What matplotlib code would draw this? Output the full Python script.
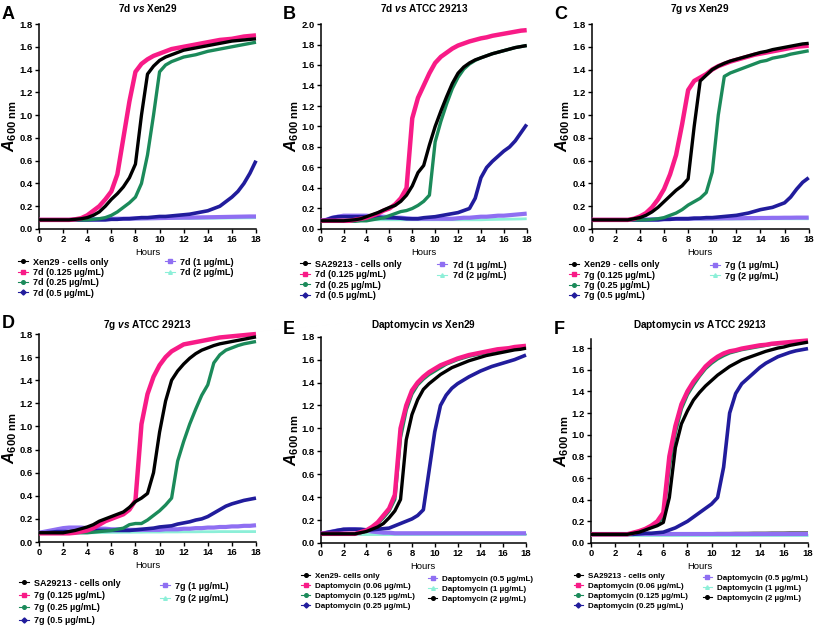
import numpy as np
import matplotlib
matplotlib.use('Agg')
import matplotlib.pyplot as plt
from matplotlib.lines import Line2D

plt.rcParams['font.family'] = ['Liberation Sans', 'DejaVu Sans']
plt.rcParams['font.weight'] = 'bold'
plt.rcParams['mathtext.fontset'] = 'custom'
plt.rcParams['mathtext.rm'] = 'Liberation Sans:bold'
plt.rcParams['mathtext.it'] = 'Liberation Sans:italic:bold'
plt.rcParams['mathtext.bf'] = 'Liberation Sans:bold'

# time grid (h), readings every 30 min
hours = np.arange(0, 18.01, 0.5)

# ---- A: 7d vs Xen29 ----
a_cells = [0.08, 0.08, 0.08, 0.08, 0.08, 0.08, 0.085, 0.09, 0.10,
           0.12, 0.15, 0.20, 0.26, 0.31, 0.37, 0.45, 0.57, 1.00,
           1.36, 1.43, 1.48, 1.51, 1.53, 1.55, 1.57, 1.58, 1.59,
           1.60, 1.61, 1.62, 1.63, 1.64, 1.65, 1.655, 1.66, 1.665, 1.67]
a_p125 = [0.08, 0.08, 0.08, 0.08, 0.08, 0.08, 0.085, 0.095, 0.12,
          0.16, 0.20, 0.26, 0.33, 0.48, 0.80, 1.12, 1.38, 1.45,
          1.49, 1.52, 1.54, 1.56, 1.58, 1.59, 1.60, 1.61, 1.62,
          1.63, 1.64, 1.65, 1.66, 1.665, 1.67, 1.68, 1.69, 1.695, 1.70]
a_p25 = [0.08, 0.08, 0.08, 0.08, 0.08, 0.08, 0.08, 0.08, 0.08,
         0.085, 0.09, 0.10, 0.12, 0.15, 0.19, 0.23, 0.28, 0.40,
         0.65, 1.00, 1.38, 1.44, 1.47, 1.49, 1.51, 1.52, 1.53,
         1.545, 1.56, 1.57, 1.58, 1.59, 1.60, 1.61, 1.62, 1.63, 1.64]
a_p5 = [0.08, 0.08, 0.08, 0.08, 0.08, 0.08, 0.08, 0.08, 0.08,
        0.08, 0.08, 0.08, 0.085, 0.085, 0.09, 0.09, 0.095, 0.10,
        0.10, 0.105, 0.11, 0.11, 0.115, 0.12, 0.125, 0.13, 0.14,
        0.15, 0.16, 0.18, 0.20, 0.24, 0.28, 0.33, 0.40, 0.49, 0.60]
a_1 = [0.08, 0.08, 0.08, 0.08, 0.08, 0.08, 0.082, 0.084, 0.085,
       0.086, 0.087, 0.088, 0.089, 0.09, 0.09, 0.091, 0.092, 0.093,
       0.094, 0.095, 0.096, 0.097, 0.098, 0.099, 0.10, 0.10, 0.101,
       0.102, 0.103, 0.104, 0.105, 0.106, 0.107, 0.108, 0.109, 0.11, 0.11]
a_2 = [0.08, 0.08, 0.08, 0.08, 0.08, 0.08, 0.08, 0.08, 0.08,
       0.082, 0.083, 0.084, 0.085, 0.086, 0.087, 0.088, 0.088, 0.089,
       0.09, 0.09, 0.091, 0.091, 0.092, 0.092, 0.093, 0.093, 0.094,
       0.094, 0.095, 0.095, 0.096, 0.096, 0.097, 0.097, 0.098, 0.098, 0.10]

# ---- B: 7d vs ATCC 29213 ----
b_cells = [0.08, 0.08, 0.08, 0.08, 0.08, 0.085, 0.09, 0.10, 0.12,
           0.14, 0.16, 0.185, 0.21, 0.23, 0.27, 0.33, 0.42, 0.55,
           0.62, 0.82, 1.00, 1.15, 1.29, 1.42, 1.52, 1.58, 1.62,
           1.65, 1.67, 1.69, 1.71, 1.725, 1.74, 1.755, 1.77, 1.78, 1.79]
b_p125 = [0.08, 0.08, 0.08, 0.08, 0.08, 0.08, 0.09, 0.10, 0.11,
          0.13, 0.15, 0.18, 0.20, 0.24, 0.30, 0.40, 1.08, 1.28,
          1.40, 1.52, 1.62, 1.68, 1.72, 1.76, 1.79, 1.81, 1.83,
          1.845, 1.86, 1.87, 1.885, 1.895, 1.905, 1.915, 1.925, 1.935, 1.94]
b_p25 = [0.075, 0.075, 0.075, 0.075, 0.075, 0.075, 0.075, 0.08, 0.08,
         0.09, 0.10, 0.11, 0.13, 0.15, 0.17, 0.18, 0.20, 0.23,
         0.27, 0.33, 0.85, 1.05, 1.22, 1.37, 1.48, 1.56, 1.61,
         1.645, 1.67, 1.69, 1.71, 1.725, 1.74, 1.755, 1.77, 1.78, 1.79]
b_p5 = [0.08, 0.09, 0.11, 0.12, 0.12, 0.12, 0.12, 0.12, 0.12,
        0.115, 0.115, 0.11, 0.11, 0.11, 0.105, 0.10, 0.10, 0.10,
        0.11, 0.115, 0.12, 0.13, 0.14, 0.15, 0.16, 0.18, 0.20,
        0.30, 0.50, 0.60, 0.66, 0.71, 0.76, 0.80, 0.86, 0.94, 1.02]
b_1 = [0.08, 0.09, 0.11, 0.12, 0.13, 0.13, 0.13, 0.13, 0.13,
       0.125, 0.12, 0.12, 0.115, 0.11, 0.11, 0.105, 0.10, 0.10,
       0.10, 0.10, 0.10, 0.10, 0.10, 0.10, 0.105, 0.11, 0.11,
       0.115, 0.12, 0.12, 0.125, 0.13, 0.13, 0.135, 0.14, 0.145, 0.15]
b_2 = [0.08, 0.08, 0.085, 0.09, 0.09, 0.09, 0.09, 0.09, 0.09,
       0.09, 0.09, 0.09, 0.09, 0.09, 0.09, 0.09, 0.09, 0.09,
       0.09, 0.09, 0.09, 0.09, 0.09, 0.09, 0.09, 0.09, 0.09,
       0.09, 0.09, 0.092, 0.093, 0.094, 0.095, 0.096, 0.097, 0.098, 0.10]

# ---- C: 7g vs Xen29 ----
c_cells = [0.08, 0.08, 0.08, 0.08, 0.08, 0.08, 0.08, 0.09, 0.10,
           0.12, 0.15, 0.19, 0.24, 0.29, 0.34, 0.38, 0.44, 0.90,
           1.30, 1.35, 1.40, 1.43, 1.455, 1.475, 1.49, 1.505, 1.52,
           1.535, 1.55, 1.56, 1.575, 1.585, 1.595, 1.605, 1.615, 1.625, 1.63]
c_p125 = [0.08, 0.08, 0.08, 0.08, 0.08, 0.08, 0.08, 0.09, 0.11,
          0.14, 0.19, 0.26, 0.35, 0.48, 0.65, 0.92, 1.22, 1.30,
          1.33, 1.36, 1.40, 1.43, 1.45, 1.47, 1.485, 1.50, 1.515,
          1.53, 1.54, 1.55, 1.56, 1.57, 1.58, 1.59, 1.60, 1.605, 1.61]
c_p25 = [0.08, 0.08, 0.08, 0.08, 0.08, 0.08, 0.08, 0.08, 0.08,
         0.08, 0.085, 0.09, 0.10, 0.12, 0.14, 0.17, 0.21, 0.24,
         0.27, 0.32, 0.50, 1.00, 1.34, 1.37, 1.39, 1.41, 1.43,
         1.45, 1.47, 1.48, 1.50, 1.51, 1.52, 1.535, 1.545, 1.555, 1.565]
c_p5 = [0.08, 0.08, 0.08, 0.08, 0.08, 0.08, 0.08, 0.08, 0.08,
        0.08, 0.08, 0.08, 0.085, 0.085, 0.09, 0.09, 0.09, 0.095,
        0.095, 0.10, 0.10, 0.105, 0.11, 0.115, 0.12, 0.13, 0.14,
        0.155, 0.17, 0.18, 0.19, 0.21, 0.23, 0.28, 0.35, 0.41, 0.45]
c_1 = [0.08, 0.08, 0.08, 0.08, 0.08, 0.08, 0.08, 0.082, 0.083,
       0.084, 0.085, 0.086, 0.087, 0.088, 0.089, 0.09, 0.09, 0.091,
       0.092, 0.092, 0.093, 0.093, 0.094, 0.094, 0.095, 0.095, 0.096,
       0.096, 0.097, 0.097, 0.098, 0.098, 0.099, 0.099, 0.10, 0.10, 0.10]
c_2 = [0.08, 0.08, 0.08, 0.08, 0.08, 0.08, 0.08, 0.08, 0.08,
       0.081, 0.082, 0.082, 0.083, 0.083, 0.084, 0.084, 0.085, 0.085,
       0.086, 0.086, 0.087, 0.087, 0.088, 0.088, 0.088, 0.089, 0.089,
       0.089, 0.09, 0.09, 0.09, 0.09, 0.09, 0.09, 0.09, 0.09, 0.09]

# ---- D: 7g vs ATCC 29213 ----
d_cells = [0.08, 0.08, 0.08, 0.08, 0.08, 0.09, 0.10, 0.115, 0.13,
           0.15, 0.18, 0.20, 0.22, 0.24, 0.26, 0.30, 0.35, 0.38,
           0.42, 0.60, 0.95, 1.22, 1.40, 1.48, 1.54, 1.59, 1.63,
           1.66, 1.68, 1.70, 1.715, 1.725, 1.735, 1.745, 1.755, 1.765, 1.775]
d_p125 = [0.075, 0.075, 0.075, 0.075, 0.075, 0.075, 0.08, 0.09, 0.10,
          0.12, 0.15, 0.18, 0.20, 0.22, 0.24, 0.28, 0.36, 1.02,
          1.28, 1.43, 1.53, 1.60, 1.65, 1.68, 1.71, 1.72, 1.73,
          1.74, 1.75, 1.76, 1.77, 1.775, 1.78, 1.785, 1.79, 1.795, 1.80]
d_p25 = [0.08, 0.08, 0.08, 0.08, 0.08, 0.08, 0.08, 0.08, 0.08,
         0.085, 0.09, 0.095, 0.10, 0.11, 0.12, 0.15, 0.16, 0.16,
         0.19, 0.23, 0.27, 0.32, 0.38, 0.70, 0.87, 1.02, 1.15,
         1.27, 1.36, 1.55, 1.62, 1.66, 1.68, 1.70, 1.715, 1.725, 1.735]
d_p5 = [0.08, 0.08, 0.085, 0.09, 0.09, 0.09, 0.095, 0.095, 0.10,
        0.10, 0.10, 0.10, 0.10, 0.10, 0.10, 0.10, 0.105, 0.11,
        0.115, 0.12, 0.13, 0.135, 0.14, 0.155, 0.165, 0.175, 0.19,
        0.20, 0.22, 0.25, 0.28, 0.31, 0.33, 0.345, 0.36, 0.37, 0.38]
d_1 = [0.08, 0.09, 0.10, 0.11, 0.12, 0.125, 0.125, 0.125, 0.12,
       0.12, 0.115, 0.115, 0.11, 0.11, 0.11, 0.105, 0.105, 0.105,
       0.105, 0.105, 0.105, 0.11, 0.11, 0.11, 0.115, 0.115, 0.12,
       0.12, 0.125, 0.125, 0.13, 0.13, 0.135, 0.135, 0.14, 0.14, 0.145]
d_2 = [0.08, 0.08, 0.08, 0.08, 0.08, 0.08, 0.08, 0.08, 0.08,
       0.08, 0.082, 0.082, 0.083, 0.083, 0.084, 0.084, 0.085, 0.085,
       0.086, 0.086, 0.086, 0.087, 0.087, 0.087, 0.088, 0.088, 0.088,
       0.089, 0.089, 0.089, 0.09, 0.09, 0.09, 0.09, 0.09, 0.09, 0.09]

# ---- E: Daptomycin vs Xen29 ----
e_cells = [0.08, 0.08, 0.08, 0.08, 0.08, 0.08, 0.08, 0.09, 0.10,
           0.12, 0.14, 0.17, 0.22, 0.28, 0.38, 0.90, 1.12, 1.25,
           1.34, 1.39, 1.43, 1.47, 1.50, 1.53, 1.55, 1.57, 1.59,
           1.605, 1.62, 1.635, 1.645, 1.655, 1.665, 1.675, 1.685, 1.69, 1.70]
e_p06 = [0.08, 0.08, 0.08, 0.08, 0.08, 0.08, 0.08, 0.095, 0.11,
         0.14, 0.18, 0.24, 0.30, 0.42, 1.00, 1.20, 1.33, 1.40,
         1.45, 1.49, 1.52, 1.55, 1.57, 1.59, 1.61, 1.625, 1.64,
         1.65, 1.66, 1.67, 1.68, 1.69, 1.695, 1.70, 1.71, 1.715, 1.72]
e_p125 = [0.08, 0.08, 0.08, 0.08, 0.08, 0.08, 0.08, 0.09, 0.105,
          0.13, 0.17, 0.22, 0.28, 0.38, 0.92, 1.16, 1.30, 1.38,
          1.43, 1.47, 1.50, 1.53, 1.56, 1.58, 1.60, 1.615, 1.63,
          1.64, 1.65, 1.66, 1.67, 1.68, 1.685, 1.69, 1.70, 1.705, 1.71]
e_p25 = [0.08, 0.09, 0.10, 0.11, 0.12, 0.12, 0.12, 0.12, 0.115,
         0.115, 0.12, 0.125, 0.13, 0.15, 0.17, 0.19, 0.21, 0.24,
         0.29, 0.63, 0.97, 1.20, 1.29, 1.35, 1.39, 1.42, 1.45,
         1.475, 1.50, 1.52, 1.54, 1.555, 1.57, 1.585, 1.60, 1.62, 1.64]
e_p5 = [0.08, 0.09, 0.10, 0.11, 0.115, 0.12, 0.12, 0.115, 0.11,
        0.10, 0.095, 0.09, 0.09, 0.085, 0.085, 0.085, 0.085, 0.085,
        0.085, 0.085, 0.085, 0.085, 0.085, 0.085, 0.085, 0.085, 0.085,
        0.085, 0.085, 0.085, 0.085, 0.085, 0.085, 0.085, 0.085, 0.085, 0.085]
e_1 = [0.08, 0.08, 0.08, 0.08, 0.08, 0.08, 0.08, 0.08, 0.08,
       0.08, 0.08, 0.08, 0.08, 0.08, 0.08, 0.08, 0.08, 0.08,
       0.08, 0.08, 0.08, 0.08, 0.08, 0.08, 0.08, 0.08, 0.08,
       0.08, 0.08, 0.08, 0.08, 0.08, 0.08, 0.08, 0.08, 0.08, 0.08]
e_2 = [0.075, 0.075, 0.075, 0.075, 0.075, 0.075, 0.075, 0.075, 0.075,
       0.075, 0.075, 0.075, 0.075, 0.075, 0.075, 0.075, 0.075, 0.075,
       0.075, 0.075, 0.075, 0.075, 0.075, 0.075, 0.075, 0.075, 0.075,
       0.075, 0.075, 0.075, 0.075, 0.075, 0.075, 0.075, 0.075, 0.075, 0.075]

# ---- F: Daptomycin vs ATCC 29213 ----
f_cells = [0.08, 0.08, 0.08, 0.08, 0.08, 0.08, 0.08, 0.09, 0.10,
           0.12, 0.14, 0.16, 0.19, 0.42, 0.88, 1.10, 1.22, 1.32,
           1.39, 1.45, 1.50, 1.55, 1.59, 1.63, 1.66, 1.69, 1.71,
           1.73, 1.75, 1.77, 1.785, 1.80, 1.81, 1.825, 1.835, 1.845, 1.855]
f_p06 = [0.08, 0.08, 0.08, 0.08, 0.08, 0.08, 0.08, 0.095, 0.11,
         0.13, 0.16, 0.20, 0.28, 0.80, 1.08, 1.28, 1.40, 1.49,
         1.56, 1.63, 1.68, 1.72, 1.75, 1.77, 1.78, 1.795, 1.805,
         1.815, 1.825, 1.83, 1.84, 1.845, 1.85, 1.855, 1.86, 1.865, 1.87]
f_p125 = [0.08, 0.08, 0.08, 0.08, 0.08, 0.08, 0.08, 0.09, 0.105,
          0.125, 0.15, 0.18, 0.24, 0.70, 1.02, 1.24, 1.37, 1.46,
          1.54, 1.61, 1.66, 1.70, 1.73, 1.755, 1.77, 1.785, 1.795,
          1.805, 1.815, 1.825, 1.835, 1.84, 1.845, 1.85, 1.855, 1.86, 1.865]
f_p25 = [0.08, 0.08, 0.08, 0.08, 0.08, 0.08, 0.08, 0.08, 0.085,
         0.09, 0.09, 0.095, 0.10, 0.12, 0.14, 0.17, 0.20, 0.24,
         0.28, 0.32, 0.36, 0.42, 0.70, 1.20, 1.38, 1.47, 1.52,
         1.57, 1.62, 1.66, 1.69, 1.72, 1.74, 1.76, 1.775, 1.785, 1.795]
f_p5 = [0.08, 0.08, 0.08, 0.08, 0.08, 0.08, 0.08, 0.08, 0.08,
        0.08, 0.08, 0.08, 0.08, 0.08, 0.08, 0.08, 0.08, 0.08,
        0.08, 0.08, 0.08, 0.08, 0.08, 0.08, 0.08, 0.08, 0.08,
        0.08, 0.08, 0.08, 0.08, 0.08, 0.08, 0.08, 0.08, 0.08, 0.08]
f_1 = [0.075, 0.075, 0.075, 0.075, 0.075, 0.075, 0.075, 0.075, 0.075,
       0.075, 0.075, 0.075, 0.075, 0.075, 0.075, 0.075, 0.075, 0.075,
       0.075, 0.075, 0.075, 0.075, 0.075, 0.075, 0.075, 0.075, 0.075,
       0.075, 0.075, 0.075, 0.075, 0.075, 0.075, 0.075, 0.075, 0.075, 0.075]
f_2 = [0.09, 0.09, 0.09, 0.09, 0.09, 0.09, 0.09, 0.09, 0.09,
       0.092, 0.092, 0.092, 0.093, 0.093, 0.093, 0.094, 0.094, 0.094,
       0.095, 0.095, 0.095, 0.096, 0.096, 0.096, 0.097, 0.097, 0.097,
       0.098, 0.098, 0.098, 0.099, 0.099, 0.099, 0.10, 0.10, 0.10, 0.10]

labels_7d_xen = ['Xen29 - cells only', '7d (0.125 µg/mL)', '7d (0.25 µg/mL)',
                 '7d (0.5 µg/mL)', '7d (1 µg/mL)', '7d (2 µg/mL)']
labels_7d_sa = ['SA29213 - cells only', '7d (0.125 µg/mL)', '7d (0.25 µg/mL)',
                '7d (0.5 µg/mL)', '7d (1 µg/mL)', '7d (2 µg/mL)']
labels_7g_xen = ['Xen29 - cells only', '7g (0.125 µg/mL)', '7g (0.25 µg/mL)',
                 '7g (0.5 µg/mL)', '7g (1 µg/mL)', '7g (2 µg/mL)']
labels_7g_sa = ['SA29213 - cells only', '7g (0.125 µg/mL)', '7g (0.25 µg/mL)',
                '7g (0.5 µg/mL)', '7g (1 µg/mL)', '7g (2 µg/mL)']
labels_dap_xen = ['Xen29- cells only', 'Daptomycin (0.06 µg/mL)', 'Daptomycin (0.125 µg/mL)',
                  'Daptomycin (0.25 µg/mL)', 'Daptomycin (0.5 µg/mL)', 'Daptomycin (1 µg/mL)',
                  'Daptomycin (2 µg/mL)']
labels_dap_sa = ['SA29213 - cells only', 'Daptomycin (0.06 µg/mL)', 'Daptomycin (0.125 µg/mL)',
                 'Daptomycin (0.25 µg/mL)', 'Daptomycin (0.5 µg/mL)', 'Daptomycin (1 µg/mL)',
                 'Daptomycin (2 µg/mL)']

colors = ['#000000', '#F81B87', '#1B8A5A', '#211C9C', '#8F6FF2', '#8CEFD8', '#000000']
widths = [2.4, 3.2, 2.4, 2.6, 3.0, 2.0, 1.0]
marks = ['o', 's', 'o', 'D', 's', '^', 'o']

W, H = 817, 627
fig = plt.figure(figsize=(W / 100, H / 100), dpi=100)
FS = 6.8


def add_panel(box, series, labels, ymax, title, title_y, letter, letter_xy, leg1, leg2, spacing, leg_fs):
    left, top, right, bottom = box
    ax = fig.add_axes([left / W, 1 - bottom / H, (right - left) / W, (bottom - top) / H])
    n = len(series)
    for i in reversed(range(n)):
        ax.plot(hours, series[i], color=colors[i], lw=widths[i], zorder=3 + n - i,
                clip_on=False, solid_capstyle='butt')
    ax.set_xlim(0, 18)
    ax.set_ylim(0, ymax)
    ax.set_xticks(range(0, 19, 2))
    yt = np.arange(0, ymax + 0.001, 0.2)
    ax.set_yticks(yt)
    ax.set_yticklabels(['%.1f' % v for v in yt])
    for s in ['top', 'right']:
        ax.spines[s].set_visible(False)
    for s in ['left', 'bottom']:
        ax.spines[s].set_linewidth(1.1)
    ax.tick_params(labelsize=FS, length=3, width=1, pad=1.5)
    ax.set_xlabel('Hours', fontsize=FS, labelpad=3)
    ax.set_ylabel(r'$A_{\mathrm{600\ nm}}$', fontsize=11.5)
    ax.yaxis.set_label_coords(-20.0 / (right - left), 0.5)
    fig.text((left + right) / 2 / W, 1 - title_y / H, title, fontsize=7.2,
             ha='center', va='center')
    fig.text(letter_xy[0] / W, 1 - letter_xy[1] / H, letter, fontsize=13,
             ha='left', va='top')

    handles = [Line2D([0], [0], color=colors[i], lw=0.8, marker=marks[i], ms=2.6)
               for i in range(n)]
    fspx = leg_fs * 100 / 72
    hl, htp = 1.1, 0.6
    for idx, (xt, yr) in zip([range(0, 4), range(4, n)], [leg1, leg2]):
        x0 = xt - (hl + htp) * fspx
        y0 = yr - 0.6 * fspx
        fig.legend([handles[i] for i in idx], [labels[i] for i in idx],
                   loc='upper left', bbox_to_anchor=(x0 / W, 1 - y0 / H),
                   frameon=False, fontsize=leg_fs, handlelength=hl, handletextpad=htp,
                   labelspacing=spacing, borderpad=0, borderaxespad=0)
    return ax


add_panel((39, 24, 256, 229), [a_cells, a_p125, a_p25, a_p5, a_1, a_2], labels_7d_xen,
          1.8, r'7d $\mathit{vs}$ Xen29', 8.5, 'A', (2, 6), (33, 263), (180, 263), 0.15, 6.5)
add_panel((320.7, 24, 526.7, 229), [b_cells, b_p125, b_p25, b_p5, b_1, b_2], labels_7d_sa,
          2.0, r'7d $\mathit{vs}$ ATCC 29213', 8.5, 'B', (283, 6), (315, 265), (452.7, 266), 0.17, 6.5)
add_panel((591.7, 24, 808.7, 229), [c_cells, c_p125, c_p25, c_p5, c_1, c_2], labels_7g_xen,
          1.8, r'7g $\mathit{vs}$ Xen29', 8.5, 'C', (554, 6), (584, 265.7), (725, 266.7), 0.15, 6.5)
add_panel((39, 334, 256, 542), [d_cells, d_p125, d_p25, d_p5, d_1, d_2], labels_7g_sa,
          1.8, r'7g $\mathit{vs}$ ATCC 29213', 325, 'D', (2, 315), (34.3, 584), (175, 587), 0.38, 6.5)
add_panel((320.7, 336.7, 526, 543), [e_cells, e_p06, e_p125, e_p25, e_p5, e_1, e_2], labels_dap_xen,
          1.8, r'Daptomycin $\mathit{vs}$ Xen29', 325, 'E', (283, 321), (315, 577), (442, 580), 0.3, 5.8)
add_panel((591, 339.4, 808, 543), [f_cells, f_p06, f_p125, f_p25, f_p5, f_1, f_2], labels_dap_sa,
          1.88, r'Daptomycin $\mathit{vs}$ ATCC 29213', 325, 'F', (554, 321), (587.7, 577.3), (716.7, 579), 0.3, 5.8)

plt.savefig('out.png', dpi=100)
